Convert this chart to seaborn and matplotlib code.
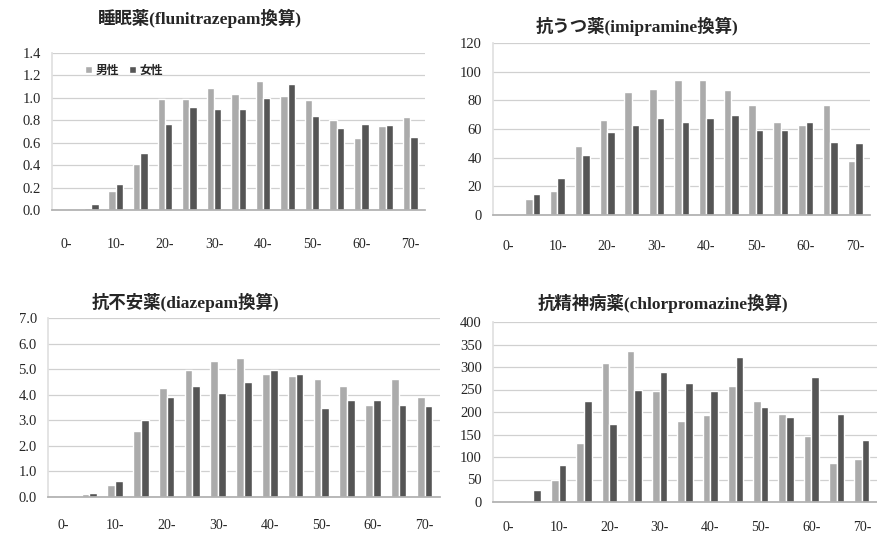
import numpy as np
import pandas as pd
import matplotlib
matplotlib.use("Agg")
import matplotlib.pyplot as plt
import seaborn as sns

ages = ["0-", "5-", "10-", "15-", "20-", "25-", "30-", "35-", "40-", "45-",
        "50-", "55-", "60-", "65-", "70-"]
tick_labels = ["0-", "10-", "20-", "30-", "40-", "50-", "60-", "70-"]
sexes = ["男性", "女性"]

titles = ["睡眠薬(flunitrazepam換算)", "抗うつ薬(imipramine換算)",
          "抗不安薬(diazepam換算)", "抗精神病薬(chlorpromazine換算)"]

hypno_m = [0.01, 0.02, 0.17, 0.41, 0.99, 0.99, 1.09, 1.03, 1.15, 1.02, 0.98, 0.80, 0.64, 0.75, 0.83]
hypno_f = [0.00, 0.05, 0.23, 0.51, 0.77, 0.92, 0.90, 0.90, 1.00, 1.12, 0.84, 0.73, 0.77, 0.76, 0.65]

antidep_m = [0, 11, 17, 48, 66, 86, 88, 94, 94, 87, 77, 65, 63, 77, 38]
antidep_f = [0, 15, 26, 42, 58, 63, 68, 65, 68, 70, 59, 59, 65, 51, 50]

anxio_m = [0.03, 0.12, 0.45, 2.6, 4.25, 4.95, 5.3, 5.45, 4.8, 4.75, 4.6, 4.35, 3.6, 4.6, 3.9]
anxio_f = [0.00, 0.17, 0.62, 3.0, 3.9, 4.35, 4.05, 4.5, 4.95, 4.8, 3.5, 3.8, 3.8, 3.6, 3.55]

antipsy_m = [2, 3, 50, 132, 308, 335, 247, 180, 194, 257, 225, 196, 147, 87, 96]
antipsy_f = [0, 27, 82, 224, 174, 250, 290, 264, 246, 323, 212, 188, 277, 195, 137]

ylims = [(0, 1.4), (0, 120), (0, 7.0), (0, 400)]
ysteps = [0.2, 20, 1.0, 50]
yfmts = ["{:.1f}", "{:.0f}", "{:.1f}", "{:.0f}"]

series = [(hypno_m, hypno_f), (antidep_m, antidep_f),
          (anxio_m, anxio_f), (antipsy_m, antipsy_f)]

sns.set_theme(style="white")
plt.rcParams['font.family'] = ['Liberation Serif', 'Noto Sans CJK JP', 'DejaVu Sans']

fig = plt.figure(figsize=(8.77, 5.36), dpi=100)
W, H = 877, 536
# axes boxes in pixels: left, top, right, bottom
boxes = [(52, 53, 425, 210), (493, 43, 870, 215),
         (48, 318, 440, 497), (493, 322, 877, 502)]
title_pos = [(200, 18), (637, 26), (185, 302), (663, 303)]
xpads = [20, 18, 16, 14]

palette = {"男性": "#ababab", "女性": "#555555"}

for i, (box, (m, f)) in enumerate(zip(boxes, series)):
    l, t, r, b = box
    ax = fig.add_axes([l / W, 1 - b / H, (r - l) / W, (b - t) / H])
    df = pd.DataFrame({
        "age": ages * 2,
        "sex": [sexes[0]] * len(ages) + [sexes[1]] * len(ages),
        "value": list(m) + list(f),
    })
    sns.barplot(data=df, x="age", y="value", hue="sex", order=ages,
                hue_order=sexes, palette=palette, width=0.6, ax=ax,
                legend=(i == 0), saturation=1)
    lo, hi = ylims[i]
    ax.set_ylim(lo, hi)
    ticks = np.arange(lo, hi + ysteps[i] / 2, ysteps[i])
    ax.set_yticks(ticks)
    ax.set_yticklabels([yfmts[i].format(v) for v in ticks], fontsize=10.5)
    ax.yaxis.grid(True, color="#d0d0d0", linewidth=0.9)
    ax.set_axisbelow(True)
    ax.set_xlim(-0.6, len(ages) - 0.4)
    ax.set_xticks(range(0, len(ages), 2))
    ax.set_xticklabels(tick_labels, fontsize=10)
    ax.tick_params(axis="x", length=0, pad=xpads[i])
    ax.tick_params(axis="y", length=0, pad=8)
    ax.set_xlabel("")
    ax.set_ylabel("")
    for s in ["top", "right"]:
        ax.spines[s].set_visible(False)
    ax.spines["left"].set_color("#e0e0e0")
    ax.spines["bottom"].set_color("#b0b0b0")
    tx, ty = title_pos[i]
    fig.text(tx / W, 1 - ty / H, titles[i], fontsize=12.5, fontweight="bold",
             ha="center", va="center")
    if i == 0:
        ax.legend(loc="upper left", bbox_to_anchor=(0.06, 1.0), ncol=2,
                  frameon=False, handlelength=0.6,
                  handleheight=0.6, handletextpad=0.3, columnspacing=0.8,
                  prop={'family': ['Noto Sans CJK JP'], 'weight': 'bold', 'size': 8.5})

fig.savefig("out.png", dpi=100)
